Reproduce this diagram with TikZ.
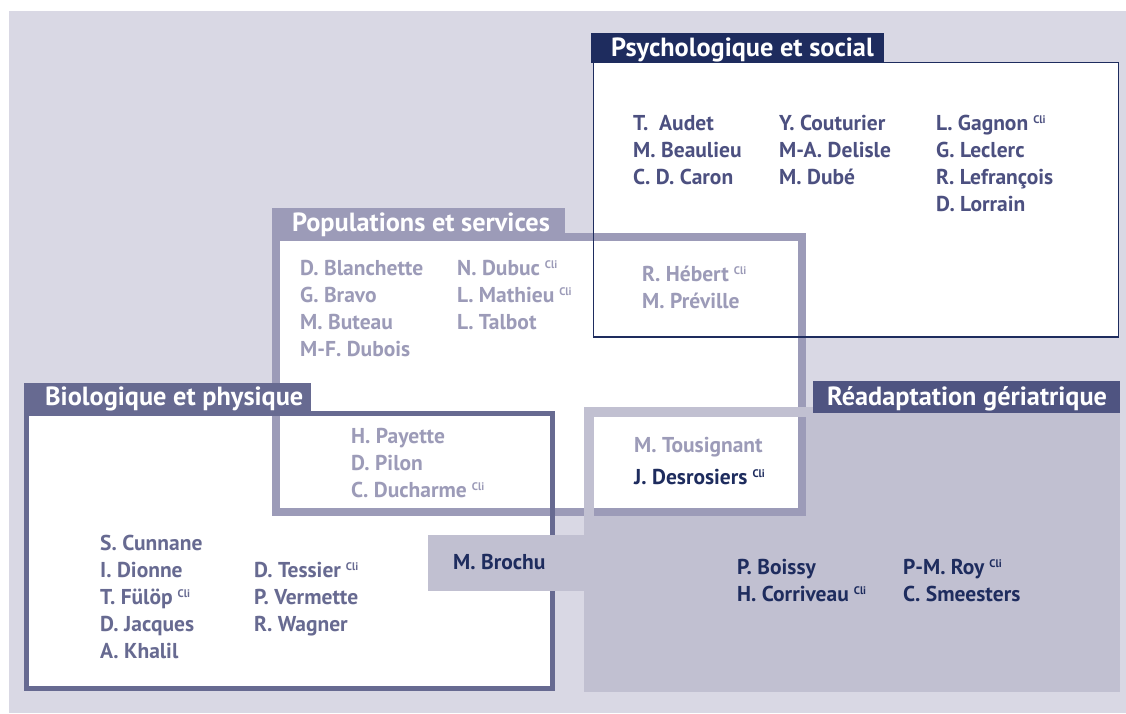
\documentclass[tikz,border=0pt]{standalone}
\usepackage{fontspec}
\setmainfont{PT Sans}
\usepackage{tikz}
\definecolor{backdrop}{HTML}{D9D8E4}
\definecolor{psynavy}{HTML}{1E2C5E}
\definecolor{psytext}{HTML}{4C5080}
\definecolor{popgray}{HTML}{9C9BB8}
\definecolor{bioslate}{HTML}{676A91}
\definecolor{readhead}{HTML}{4F5481}
\definecolor{readfill}{HTML}{C1C0D1}
\newcommand*{\cli}{\hspace{5pt}{\fontsize{11}{11}\selectfont\raisebox{7pt}{Cli}}}
\tikzset{
  person/.style={anchor=base west, inner sep=0pt, font=\fontsize{21.5}{25}\selectfont\bfseries},
  head/.style={anchor=base west, inner sep=0pt, text=white, font=\fontsize{26.3}{31}\selectfont\bfseries}
}

\begin{document}
\begin{tikzpicture}[x=1pt, y=-1pt]
            \useasboundingbox (0, 0) rectangle (1126, 713);
            \fill[backdrop] (9, 11) rectangle (1126, 713);
            % white grounds, lower layers first
            \fill[white] (593, 62) rectangle (1119, 337);
            \fill[white] (24, 411) rectangle (555, 691);
            \fill[readfill] (584, 407) rectangle (1120, 692);
            \fill[white] (272, 233) rectangle (806, 516);
            \draw[popgray, line width=8pt] (276, 237) rectangle (802, 512);
            \fill[readfill] (584, 407) rectangle (813, 417);
            \fill[readfill] (584, 407) rectangle (594, 516);
            \draw[bioslate, line width=5pt] (26.5, 413.5) rectangle (552.5, 688.5);
            \draw[psynavy, line width=1.5pt] (593.5, 62.5) rectangle (1118.5, 337);
            \fill[readfill] (428, 535) rectangle (584, 591);
            % headers
            \fill[psynavy] (591, 33) rectangle (884, 63);
            \fill[popgray] (272, 208) rectangle (565, 238);
            \fill[bioslate] (24, 383) rectangle (311, 413);
            \fill[readhead] (813, 381) rectangle (1120, 413);
            \node[head] (psyhead) at (611, 56) {Psychologique et social};
            \node[head] (pophead) at (292, 231) {Populations et services};
            \node[head] (biohead) at (45, 405) {Biologique et physique};
            \node[head] (readtitle) at (827, 405) {Réadaptation gériatrique};
            % Psychologique et social
            \node[person, text=psytext] (audet) at (633, 130) {T.\ \ Audet};
            \node[person, text=psytext] (beaulieu) at (633, 157) {M. Beaulieu};
            \node[person, text=psytext] (caron) at (633, 184) {C. D. Caron};
            \node[person, text=psytext] (couturier) at (779, 130) {Y. Couturier};
            \node[person, text=psytext] (delisle) at (779, 157) {M-A. Delisle};
            \node[person, text=psytext] (dube) at (779, 184) {M. Dubé};
            \node[person, text=psytext] (gagnon) at (936, 130) {L. Gagnon\cli};
            \node[person, text=psytext] (leclerc) at (936, 157) {G. Leclerc};
            \node[person, text=psytext] (lefrancois) at (936, 184) {R. Lefrançois};
            \node[person, text=psytext] (lorrain) at (936, 211) {D. Lorrain};
            % Populations et services
            \node[person, text=popgray] (blanchette) at (300, 275) {D. Blanchette};
            \node[person, text=popgray] (bravo) at (300, 302) {G. Bravo};
            \node[person, text=popgray] (buteau) at (300, 329) {M. Buteau};
            \node[person, text=popgray] (dubois) at (300, 356) {M-F. Dubois};
            \node[person, text=popgray] (dubuc) at (457, 275) {N. Dubuc\cli};
            \node[person, text=popgray] (mathieu) at (457, 302) {L. Mathieu\cli};
            \node[person, text=popgray] (talbot) at (457, 329) {L. Talbot};
            \node[person, text=popgray] (hebert) at (642, 281) {R. Hébert\cli};
            \node[person, text=popgray] (preville) at (642, 308) {M. Préville};
            \node[person, text=popgray] (payette) at (351, 443) {H. Payette};
            \node[person, text=popgray] (pilon) at (351, 470) {D. Pilon};
            \node[person, text=popgray] (ducharme) at (351, 497) {C. Ducharme\cli};
            \node[person, text=popgray] (tousignant) at (634, 452) {M. Tousignant};
            \node[person, text=psynavy] (desrosiers) at (634, 484) {J. Desrosiers\cli};
            % Biologique et physique
            \node[person, text=bioslate] (cunnane) at (100, 550) {S. Cunnane};
            \node[person, text=bioslate] (dionne) at (100, 577) {I. Dionne};
            \node[person, text=bioslate] (fulop) at (100, 604) {T. Fülöp\cli};
            \node[person, text=bioslate] (jacques) at (100, 631) {D. Jacques};
            \node[person, text=bioslate] (khalil) at (100, 658) {A. Khalil};
            \node[person, text=bioslate] (tessier) at (254, 577) {D. Tessier\cli};
            \node[person, text=bioslate] (vermette) at (254, 604) {P. Vermette};
            \node[person, text=bioslate] (wagner) at (254, 631) {R. Wagner};
            \node[person, text=psynavy] (brochu) at (453, 569) {M. Brochu};
            % Readaptation geriatrique
            \node[person, text=psynavy] (boissy) at (737, 574) {P. Boissy};
            \node[person, text=psynavy] (corriveau) at (737, 601) {H. Corriveau\cli};
            \node[person, text=psynavy] (roy) at (903, 574) {P-M. Roy\cli};
            \node[person, text=psynavy] (smeesters) at (903, 601) {C. Smeesters};
        \end{tikzpicture}
\end{document}
